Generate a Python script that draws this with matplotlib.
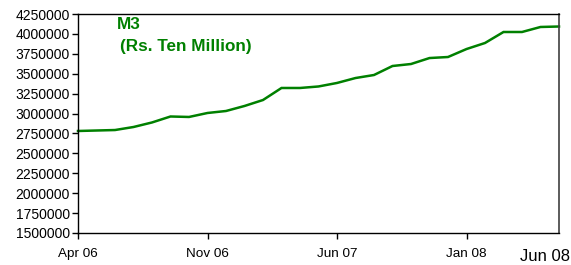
import matplotlib
matplotlib.use("Agg")
import matplotlib.pyplot as plt

plt.rcParams['font.family'] = ['Liberation Sans', 'DejaVu Sans']

# monthly M3, Apr 2006 .. Jun 2008 (Rs. Ten Million)
months = ['Apr 06', 'May 06', 'Jun 06', 'Jul 06', 'Aug 06', 'Sep 06', 'Oct 06',
          'Nov 06', 'Dec 06', 'Jan 07', 'Feb 07', 'Mar 07', 'Apr 07', 'May 07',
          'Jun 07', 'Jul 07', 'Aug 07', 'Sep 07', 'Oct 07', 'Nov 07', 'Dec 07',
          'Jan 08', 'Feb 08', 'Mar 08', 'Apr 08', 'May 08', 'Jun 08']
m3 = [2781000, 2787000, 2793000, 2831000, 2888000, 2963000, 2957000,
      3007000, 3032000, 3095000, 3170000, 3321000, 3321000, 3340000,
      3384000, 3446000, 3484000, 3597000, 3622000, 3697000, 3710000,
      3810000, 3886000, 4024000, 4024000, 4087000, 4093000]
tick_labels = ['Apr 06', 'Nov 06', 'Jun 07', 'Jan 08']
yticks = list(range(1500000, 4250001, 250000))

green = '#008000'

fig = plt.figure(figsize=(5.71, 2.65), dpi=100)
ax = fig.add_axes([78 / 571, 1 - 233 / 265, (559 - 78) / 571, (233 - 14) / 265])

x = list(range(len(months)))
ax.plot(x, m3, color=green, lw=1.8, clip_on=False, solid_joinstyle='miter')

ax.set_xlim(0, len(months) - 1)
ax.set_ylim(1500000, 4250000)
ax.set_yticks(yticks)
ax.set_yticklabels([str(v) for v in yticks], fontsize=10)
ax.set_xticks([months.index(m) for m in tick_labels])
ax.set_xticklabels(tick_labels, fontsize=9.7)
ax.tick_params(axis='both', direction='out', length=4, width=1, color='black')
ax.tick_params(axis='x', pad=7)
ax.tick_params(axis='y', pad=2)

for s in ['left', 'bottom', 'top']:
    ax.spines[s].set_color('black')
    ax.spines[s].set_linewidth(1)
ax.spines['right'].set_color('#404040')
ax.spines['right'].set_linewidth(1.2)

# last month label, larger and a bit lower, no tick
ax.text(len(months) - 1.75, -0.075, months[-1], transform=ax.get_xaxis_transform(),
        ha='center', va='top', fontsize=12, clip_on=False)

ax.text(0.08, 0.985, 'M3', transform=ax.transAxes, color=green, fontsize=12.3,
        fontweight='bold', va='top', ha='left')
ax.text(0.088, 0.885, '(Rs. Ten Million)', transform=ax.transAxes, color=green,
        fontsize=12.3, fontweight='bold', va='top', ha='left')

fig.savefig('out.png', dpi=100)
